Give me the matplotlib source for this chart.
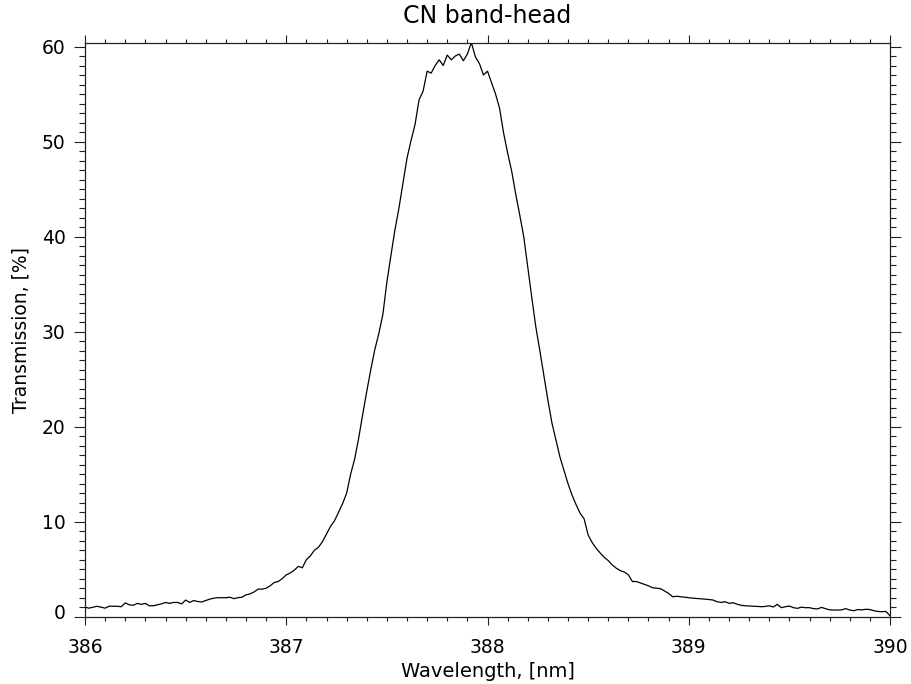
import numpy as np
import matplotlib
matplotlib.use("Agg")
import matplotlib.pyplot as plt
from matplotlib.ticker import MultipleLocator
from matplotlib.transforms import ScaledTranslation

# Filter transmission profile around the CN band-head, sampled every 0.02 nm
wavelength = np.round(np.arange(386.0, 390.0001, 0.02), 2)
transmission = [
    1.00, 0.90, 1.00, 1.10, 1.00, 0.90, 1.10, 1.10, 1.10, 1.05,   # 386.00-386.18
    1.45, 1.25, 1.20, 1.40, 1.30, 1.40, 1.15, 1.15, 1.25, 1.35,   # 386.20-386.38
    1.50, 1.40, 1.50, 1.50, 1.35, 1.75, 1.50, 1.70, 1.60, 1.55,   # 386.40-386.58
    1.70, 1.85, 1.95, 2.00, 2.00, 2.00, 2.05, 1.90, 2.00, 2.05,   # 386.60-386.78
    2.30, 2.40, 2.60, 2.90, 2.90, 3.00, 3.25, 3.60, 3.70, 4.00,   # 386.80-386.98
    4.40, 4.60, 4.90, 5.30, 5.15, 6.00, 6.40, 7.00, 7.30, 7.90,   # 387.00-387.18
    8.70, 9.50, 10.10, 11.00, 11.90, 13.00, 15.00, 16.60, 18.80, 21.30,  # 387.20-387.38
    23.70, 26.00, 28.10, 29.80, 31.80, 35.20, 38.00, 40.70, 43.00, 45.60,  # 387.40-387.58
    48.25, 50.10, 51.80, 54.40, 55.30, 57.40, 57.20, 58.00, 58.60, 58.00,  # 387.60-387.78
    59.10, 58.60, 59.00, 59.20, 58.50, 59.20, 60.40, 58.90, 58.20, 57.00,  # 387.80-387.98
    57.40, 56.20, 55.00, 53.50, 50.90, 48.80, 46.90, 44.50, 42.30, 40.00,  # 388.00-388.18
    36.80, 33.60, 30.50, 28.00, 25.40, 22.80, 20.40, 18.60, 16.80, 15.40,  # 388.20-388.38
    14.00, 12.80, 11.80, 10.90, 10.30, 8.60, 7.80, 7.20, 6.70, 6.25,     # 388.40-388.58
    5.90, 5.45, 5.10, 4.85, 4.70, 4.40, 3.70, 3.70, 3.55, 3.40,         # 388.60-388.78
    3.25, 3.05, 3.00, 2.95, 2.70, 2.45, 2.10, 2.15, 2.10, 2.05,         # 388.80-388.98
    2.00, 1.95, 1.92, 1.88, 1.85, 1.80, 1.76, 1.58, 1.50, 1.58,         # 389.00-389.18
    1.41, 1.47, 1.32, 1.20, 1.15, 1.13, 1.10, 1.08, 1.05, 1.08,         # 389.20-389.38
    1.15, 1.02, 1.30, 0.95, 1.05, 1.12, 0.95, 0.88, 1.00, 0.95,         # 389.40-389.58
    0.95, 0.85, 0.82, 0.98, 0.84, 0.72, 0.70, 0.70, 0.72, 0.85,         # 389.60-389.78
    0.70, 0.63, 0.75, 0.72, 0.78, 0.75, 0.63, 0.55, 0.53, 0.55,         # 389.80-389.98
    0.10,                                                               # 390.00
]

x_ticks = [386, 387, 388, 389, 390]
y_ticks = [0, 10, 20, 30, 40, 50, 60]

plt.rcParams["font.family"] = ["DejaVu Sans"]
ink = "#222222"

fig = plt.figure(figsize=(9.11, 6.84), dpi=100)
ax = fig.add_axes([85 / 911, 1 - 616.7 / 684, (890 - 85) / 911, (616.7 - 42.7) / 684])

ax.plot(wavelength, transmission, color="black", lw=0.9)

ax.set_xlim(386, 390)
ax.set_ylim(0, max(transmission))
ax.set_xticks(x_ticks)
ax.set_yticks(y_ticks)
ax.xaxis.set_minor_locator(MultipleLocator(0.1))
ax.yaxis.set_minor_locator(MultipleLocator(1))

for s in ax.spines.values():
    s.set_color(ink)
    s.set_linewidth(0.9)

ax.tick_params(axis="x", which="both", direction="out", top=True, bottom=True,
               colors=ink, labelcolor="black", width=0.8)
ax.tick_params(axis="x", which="major", length=6, pad=9, labelsize=13.5)
ax.tick_params(axis="x", which="minor", length=3)
ax.tick_params(axis="y", which="both", direction="out", left=True, right=True,
               colors=ink, labelcolor="black", width=0.8)
ax.tick_params(axis="y", which="major", length=8, pad=6, labelsize=13.5)
ax.tick_params(axis="y", which="minor", length=4)

ax.set_xlabel("Wavelength, [nm]", fontsize=14, labelpad=4)
ax.set_ylabel("Transmission, [%]", fontsize=13.5, labelpad=8)
ax.set_title("CN band-head", fontsize=17, pad=14)

# lift the zero label off the bottom axis
fig.canvas.draw()
lbl = ax.get_yticklabels()[0]
lbl.set_transform(lbl.get_transform() + ScaledTranslation(0, 5 / 100, fig.dpi_scale_trans))

fig.savefig("out.png", dpi=100)
